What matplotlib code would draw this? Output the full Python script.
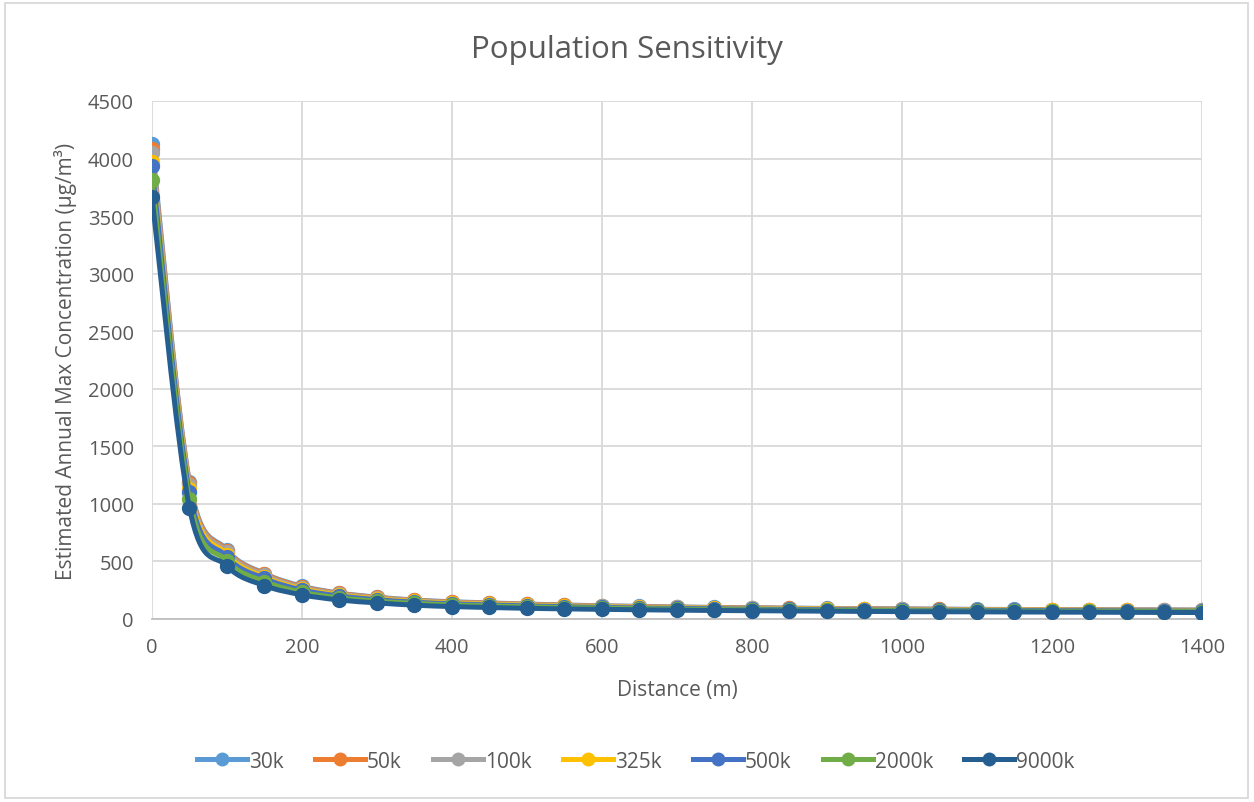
import matplotlib
matplotlib.use("Agg")
import matplotlib.pyplot as plt
from matplotlib.patches import Rectangle, PathPatch
from matplotlib.path import Path
from matplotlib.lines import Line2D

plt.rcParams['font.family'] = ['Open Sans', 'DejaVu Sans']

distance = [0, 50, 100, 150, 200, 250, 300, 350, 400, 450, 500, 550, 600, 650, 700,
            750, 800, 850, 900, 950, 1000, 1050, 1100, 1150, 1200, 1250, 1300, 1350, 1400]

labels = ["30k", "50k", "100k", "325k", "500k", "2000k", "9000k"]

conc_30k = [4127, 1190, 600, 395, 285, 225, 190, 165, 150, 140, 130, 122, 115, 110, 105,
            101, 98, 95, 92, 90, 88, 86, 84, 83, 82, 81, 80, 79, 78]
conc_50k = [4083, 1180, 592, 390, 280, 222, 187, 162, 147, 137, 128, 120, 113, 108, 103,
            99, 96, 93, 90, 88, 86, 84, 82, 81, 80, 79, 78, 77, 76]
conc_100k = [4050, 1160, 580, 380, 272, 216, 182, 158, 143, 133, 124, 116, 110, 105, 100,
             96, 93, 90, 88, 86, 84, 82, 80, 79, 78, 77, 76, 75, 74]
conc_325k = [3970, 1130, 560, 365, 262, 208, 175, 152, 138, 128, 119, 112, 106, 101, 96,
             93, 90, 87, 85, 83, 81, 79, 78, 77, 76, 75, 74, 73, 72]
conc_500k = [3936, 1100, 540, 352, 252, 200, 168, 146, 132, 122, 114, 107, 101, 96, 92,
             89, 86, 83, 81, 79, 77, 76, 75, 74, 73, 72, 71, 70, 69]
conc_2000k = [3814, 1040, 505, 325, 232, 184, 155, 135, 122, 113, 105, 99, 94, 89, 85,
              82, 79, 77, 75, 73, 71, 70, 69, 68, 67, 66, 65, 64, 63]
conc_9000k = [3666, 965, 460, 290, 210, 165, 140, 120, 108, 100, 93, 88, 84, 80, 77,
              74, 72, 70, 68, 66, 64, 63, 62, 61, 60, 59, 58, 57, 56]

series = [conc_30k, conc_50k, conc_100k, conc_325k, conc_500k, conc_2000k, conc_9000k]
colors = ["#5B9BD5", "#ED7D31", "#A5A5A5", "#FFC000", "#4472C4", "#70AD47", "#255E91"]

text_color = "#595959"
grid_color = "#D9D9D9"


def smooth_path(x, y):
    # Catmull-Rom style bezier through every point (like a spreadsheet "smoothed line")
    n = len(x)
    verts = [(x[0], y[0])]
    codes = [Path.MOVETO]
    for i in range(n - 1):
        i0 = max(i - 1, 0)
        i3 = min(i + 2, n - 1)
        c1 = (x[i] + (x[i + 1] - x[i0]) / 6, y[i] + (y[i + 1] - y[i0]) / 6)
        c2 = (x[i + 1] - (x[i3] - x[i]) / 6, y[i + 1] - (y[i3] - y[i]) / 6)
        verts += [c1, c2, (x[i + 1], y[i + 1])]
        codes += [Path.CURVE4] * 3
    return Path(verts, codes)


fig = plt.figure(figsize=(12.54, 8.03), dpi=100)
ax = fig.add_axes([0.1212, 0.2279, 0.8373, 0.6451])

handles = []
for k, (y, c, lab) in enumerate(zip(series, colors, labels)):
    ax.add_patch(PathPatch(smooth_path(distance, y), fill=False, edgecolor=c,
                           lw=3.6, capstyle="round", joinstyle="round", zorder=3 + 2 * k))
    ax.plot(distance, y, linestyle="none", marker="o", markersize=10,
            color=c, markeredgecolor=c, zorder=4 + 2 * k)
    handles.append(Line2D([], [], color=c, lw=3.6, marker="o", markersize=9,
                          markeredgecolor=c, label=lab))

ax.set_xlim(0, 1400)
ax.set_ylim(0, 4500)
ax.set_xticks(range(0, 1401, 200))
ax.set_yticks(range(0, 4501, 500))
ax.grid(True, color=grid_color, lw=1.3)
ax.set_axisbelow(True)
for side in ["top", "right", "left"]:
    ax.spines[side].set_visible(False)
ax.spines["bottom"].set_color("#BFBFBF")
ax.spines["bottom"].set_linewidth(1.3)
ax.tick_params(length=0, labelsize=14.5, colors=text_color, pad=13)

ax.set_xlabel("Distance (m)", fontsize=15, color=text_color, labelpad=16)
ax.set_ylabel("Estimated Annual Max Concentration (µg/m³)", fontsize=15,
              color=text_color, labelpad=8)
fig.text(0.5, 0.938, "Population Sensitivity", ha="center", va="center",
         fontsize=22.5, color=text_color)

leg = fig.legend(handles=handles, loc="center", bbox_to_anchor=(0.507, 0.051), ncol=7,
                 frameon=False, fontsize=15, handlelength=2.4, columnspacing=1.5,
                 handletextpad=0.1)
for t in leg.get_texts():
    t.set_color(text_color)

fig.patches.append(Rectangle((0.004, 0.005), 0.991, 0.99, transform=fig.transFigure,
                             fill=False, edgecolor="#D9D9D9", lw=1.3))

fig.savefig("out.png", dpi=100)
